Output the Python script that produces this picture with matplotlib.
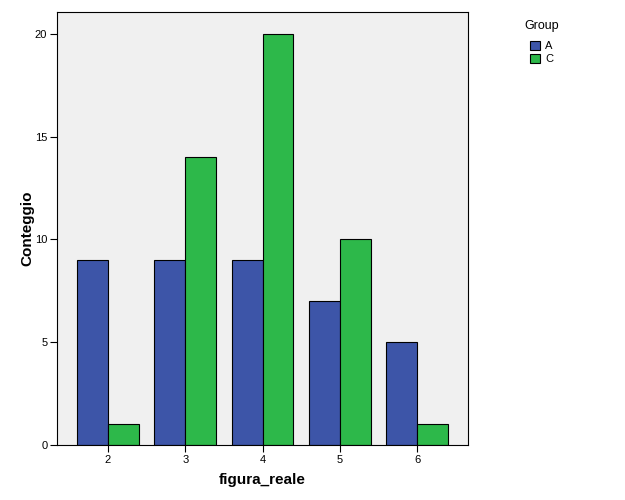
import matplotlib
matplotlib.use("Agg")
import matplotlib.pyplot as plt
import numpy as np
from matplotlib.patches import Patch

plt.rcParams['font.family'] = ['Liberation Sans', 'DejaVu Sans']

categories = ["2", "3", "4", "5", "6"]
group_a = [9, 9, 9, 7, 5]
group_c = [1, 14, 20, 10, 1]
series_names = ["A", "C"]
colors = ["#3d55a8", "#2db84a"]

fig = plt.figure(figsize=(6.25, 5), dpi=100)
ax = fig.add_axes([57/625, 1-445/500, (468-57)/625, (445-12)/500])
ax.set_facecolor("#f0f0f0")

x = np.arange(len(categories))
w = 0.4
ax.bar(x - w/2, group_a, width=w, color=colors[0], edgecolor="black", linewidth=0.8, zorder=2)
ax.bar(x + w/2, group_c, width=w, color=colors[1], edgecolor="black", linewidth=0.8, zorder=2)

ax.set_xlim(-0.66, 4.66)
ax.set_ylim(0, 21.07)
ax.set_xticks(x)
ax.set_xticklabels(categories, fontsize=8)
ax.set_yticks([0, 5, 10, 15, 20])
ax.set_yticklabels(["0", "5", "10", "15", "20"], fontsize=8)
ax.tick_params(axis='both', length=5, width=0.8, color="black", pad=2)
for s in ax.spines.values():
    s.set_linewidth(0.8)

ax.set_xlabel("figura_reale", fontsize=11, fontweight="bold", labelpad=6)
ax.set_ylabel("Conteggio", fontsize=11, fontweight="bold")
ax.yaxis.set_label_coords((34-57)/411, 0.5)

handles = [Patch(facecolor=c, edgecolor="black", linewidth=0.8) for c in colors]
leg = fig.legend(handles, series_names, title="Group", loc="upper left",
                 bbox_to_anchor=(520/625, 1-16/500), frameon=False, fontsize=8,
                 title_fontsize=9, handlelength=0.9, handleheight=0.9,
                 handletextpad=0.4, labelspacing=0.25, borderaxespad=0)
leg._legend_box.sep = 6
fig.savefig("out.png", dpi=100, facecolor="white")
